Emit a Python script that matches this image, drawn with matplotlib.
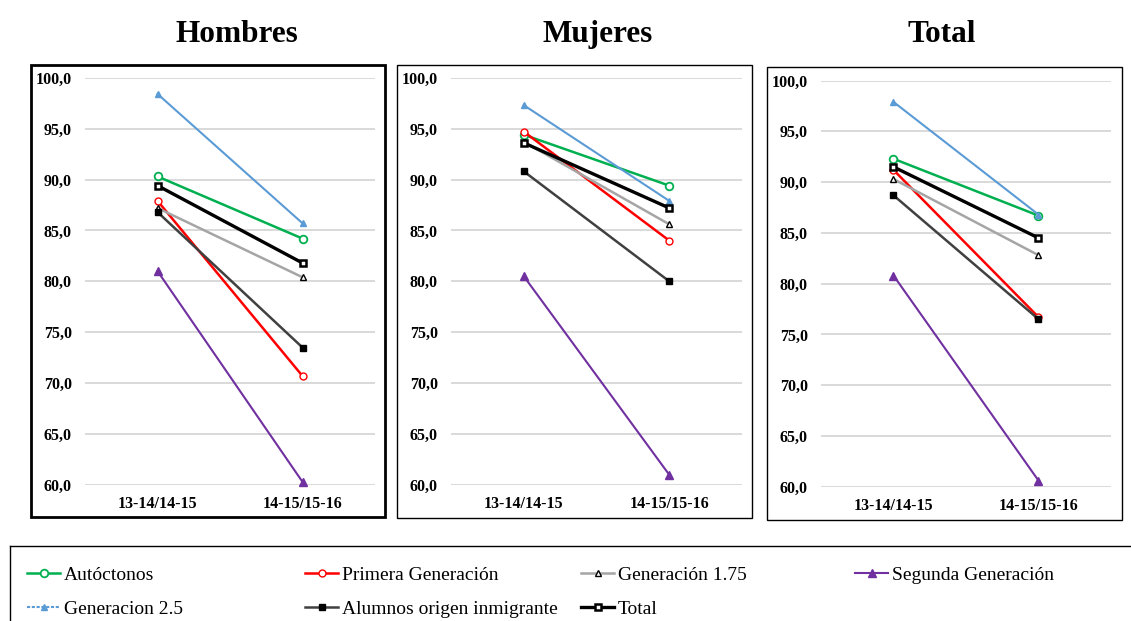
import matplotlib.pyplot as plt
from matplotlib.lines import Line2D
from matplotlib.patches import Rectangle

plt.rcParams['font.family'] = ['Liberation Serif', 'DejaVu Serif']

# categorias (eje x) y paneles
categorias = ['13-14/14-15', '14-15/15-16']
paneles = ['Hombres', 'Mujeres', 'Total']

# valores por serie: [Hombres, Mujeres, Total], cada uno [13-14/14-15, 14-15/15-16]
autoctonos = [[90.3, 84.2], [94.4, 89.4], [92.3, 86.7]]
primera_gen = [[87.9, 70.7], [94.7, 84.0], [91.2, 76.7]]
gen_175 = [[87.2, 80.4], [93.7, 85.6], [90.3, 82.8]]
segunda_gen = [[81.0, 60.3], [80.5, 61.0], [80.8, 60.6]]
gen_25 = [[98.4, 85.7], [97.3, 87.9], [97.9, 86.8]]
alumnos_inmig = [[86.8, 73.5], [90.8, 80.0], [88.7, 76.5]]
total = [[89.4, 81.8], [93.6, 87.2], [91.5, 84.5]]

series = [
    ('Autóctonos', autoctonos, dict(color='#00B050', lw=1.8, marker='o', ms=5.5, mfc='white', mec='#00B050', mew=1.3)),
    ('Primera Generación', primera_gen, dict(color='#FF0000', lw=1.8, marker='o', ms=5, mfc='white', mec='#FF0000', mew=1)),
    ('Generación 1.75', gen_175, dict(color='#A5A5A5', lw=1.8, marker='^', ms=5, mfc='white', mec='black', mew=1)),
    ('Segunda Generación', segunda_gen, dict(color='#7030A0', lw=1.5, marker='^', ms=5.5, mfc='#7030A0', mec='#7030A0')),
    ('Generacion 2.5', gen_25, dict(color='#5B9BD5', lw=1.5, marker='^', ms=4.5, mfc='#5B9BD5', mec='#5B9BD5')),
    ('Alumnos origen inmigrante', alumnos_inmig, dict(color='#404040', lw=1.8, marker='s', ms=5, mfc='black', mec='black')),
    ('Total', total, dict(color='black', lw=2.4, marker='s', ms=5, mfc='white', mec='black', mew=1.8)),
]

fig = plt.figure(figsize=(11.31, 6.21), dpi=100)

ax_pos = [
    [0.0752, 0.219, 0.2564, 0.6559],
    [0.3988, 0.219, 0.2573, 0.6559],
    [0.7259, 0.2163, 0.2564, 0.6539],
]
marcos = [
    (0.0271, 0.1675, 0.3133, 0.7279, 2.0),
    (0.3508, 0.1659, 0.3141, 0.7295, 1.0),
    (0.6779, 0.1626, 0.3139, 0.7295, 1.0),
]
titulo_x = [0.2096, 0.5288, 0.8329]

for i, nombre in enumerate(paneles):
    ax = fig.add_axes(ax_pos[i])
    for label, datos, estilo in series:
        ax.plot(range(len(categorias)), datos[i], label=label, **estilo, clip_on=False)
    ax.set_xlim(-0.5, 1.5)
    ax.set_ylim(60, 100)
    ax.set_yticks(range(60, 101, 5))
    ax.set_yticklabels([f'{v},0' for v in range(60, 101, 5)], fontweight='bold', fontsize=11.5)
    ax.set_xticks(range(len(categorias)))
    ax.set_xticklabels(categorias, fontweight='bold', fontsize=11.5)
    ax.tick_params(length=0)
    ax.tick_params(axis='y', pad=9.5)
    ax.tick_params(axis='x', pad=8)
    ax.grid(axis='y', color='#D9D9D9', lw=1.4)
    ax.set_axisbelow(True)
    for s in ax.spines.values():
        s.set_visible(False)

    x0, y0, w, h, lw = marcos[i]
    fig.patches.append(Rectangle((x0, y0), w, h, transform=fig.transFigure,
                                 fill=False, ec='black', lw=lw))
    fig.text(titulo_x[i], 0.945, nombre, ha='center', va='center',
             fontsize=22.5, fontweight='bold')

# marco de la leyenda
fig.add_artist(Line2D([10 / 1131, 1], [1 - 546 / 621, 1 - 546 / 621], color='black', lw=1,
                      transform=fig.transFigure))
fig.add_artist(Line2D([10 / 1131, 10 / 1131], [0, 1 - 546 / 621], color='black', lw=1,
                      transform=fig.transFigure))

# leyenda en cuatro columnas
handles = {}
for label, datos, estilo in series:
    est = dict(estilo)
    if label == 'Generacion 2.5':
        est['ls'] = (0, (1.5, 0.8))
    handles[label] = Line2D([], [], **est)

columnas = [
    (27, ['Autóctonos', 'Generacion 2.5']),
    (305, ['Primera Generación', 'Alumnos origen inmigrante']),
    (581, ['Generación 1.75', 'Total']),
    (855, ['Segunda Generación']),
]
for x, labels in columnas:
    fig.legend([handles[l] for l in labels], labels, loc='upper left',
               bbox_to_anchor=(x / 1131, 1 - 566 / 621), frameon=False,
               fontsize=14, borderpad=0, borderaxespad=0, handlelength=1.7,
               handletextpad=0.2, labelspacing=0.86)

fig.savefig('out.png', dpi=100)
